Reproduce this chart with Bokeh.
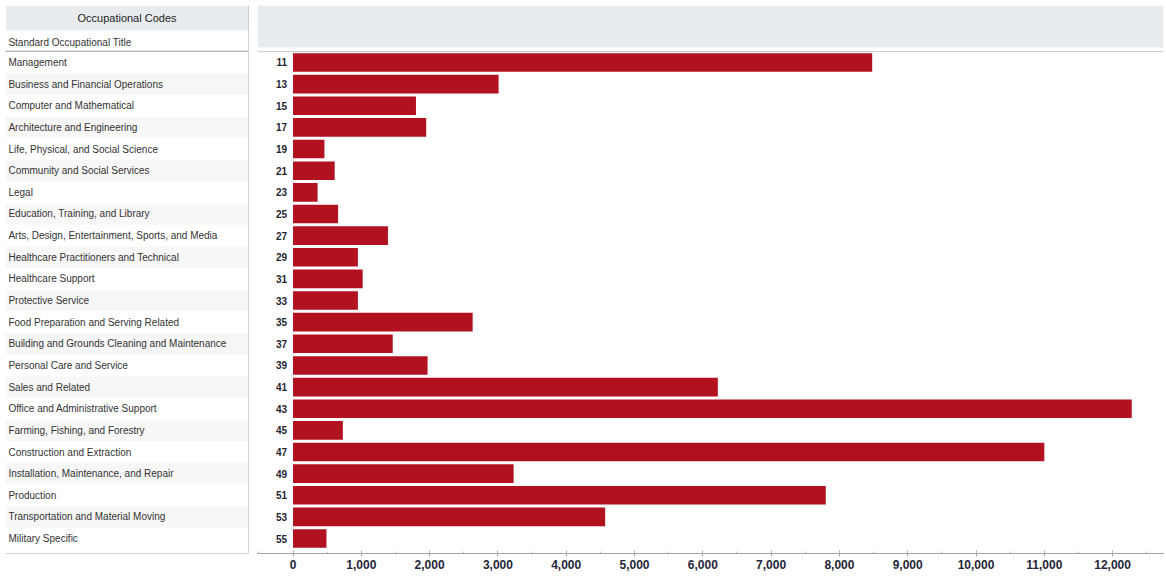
from bokeh.plotting import figure
from bokeh.layouts import row
from bokeh.models import (Range1d, ColumnDataSource, SingleIntervalTicker,
                          NumeralTickFormatter, BoxAnnotation, Span)
from bokeh.core.properties import value
from bokeh.embed import file_html
from bokeh.resources import INLINE

# SOC major groups and their counts
codes = ["11", "13", "15", "17", "19", "21", "23", "25", "27", "29", "31", "33",
         "35", "37", "39", "41", "43", "45", "47", "49", "51", "53", "55"]
titles = [
    "Management",
    "Business and Financial Operations",
    "Computer and Mathematical",
    "Architecture and Engineering",
    "Life, Physical, and Social Science",
    "Community and Social Services",
    "Legal",
    "Education, Training, and Library",
    "Arts, Design, Entertainment, Sports, and Media",
    "Healthcare Practitioners and Technical",
    "Healthcare Support",
    "Protective Service",
    "Food Preparation and Serving Related",
    "Building and Grounds Cleaning and Maintenance",
    "Personal Care and Service",
    "Sales and Related",
    "Office and Administrative Support",
    "Farming, Fishing, and Forestry",
    "Construction and Extraction",
    "Installation, Maintenance, and Repair",
    "Production",
    "Transportation and Material Moving",
    "Military Specific",
]
counts = [8480, 3010, 1800, 1950, 460, 610, 360, 660, 1390, 950, 1020, 950,
          2630, 1460, 1970, 6220, 12280, 730, 11000, 3230, 7800, 4570, 490]

FONT = "Liberation Sans"
BAR = "#B2111F"
HEADER = "#E9ECEF"

rows = list(range(len(codes)))
shade = ["#FFFFFF" if i % 2 == 0 else "#F7F7F7" for i in rows]
src = ColumnDataSource(dict(y=rows, code=codes, title=titles, count=counts,
                            shade=shade))

# shared row scale, first row at the top
y_range = Range1d(start=22.69, end=-2.634)

# ---- left: table of occupational titles ----
left = figure(width=252, height=578, x_range=Range1d(0, 1), y_range=y_range,
              x_axis_location=None, y_axis_location=None,
              toolbar_location=None, output_backend="svg",
              min_border_left=5, min_border_right=4,
              min_border_top=5, min_border_bottom=25)
left.outline_line_color = None
left.xgrid.visible = False
left.ygrid.visible = False

left.hbar(y="y", left=0, right=1, height=1.0, fill_color="shade",
          line_color=None, source=src)
left.quad(left=[0], right=[1.01], top=[-2.634], bottom=[-1.48],
          fill_color=HEADER, line_color=None)
left.text(x=[0.5], y=[-2.06], text=["Occupational Codes"],
          text_font=value(FONT), text_font_size="11px", text_color="#222222",
          text_align="center", text_baseline="middle")
left.text(x=[0.012], y=[-0.93], text=["Standard Occupational Title"],
          text_font=value(FONT), text_font_size="10px", text_color="#333333",
          text_align="left", text_baseline="middle")
left.text(x=0.012, y="y", text="title", source=src,
          text_font=value(FONT), text_font_size="10px", text_color="#333333",
          text_align="left", text_baseline="middle")
left.add_layout(Span(location=-0.52, dimension="width",
                     line_color="#9a9a9a", line_width=1))
left.add_layout(Span(location=1, dimension="height",
                     line_color="#a8a8a8", line_width=1))
left.add_layout(Span(location=22.69, dimension="width",
                     line_color="#a8a8a8", line_width=1))

# ---- right: horizontal bars ----
p = figure(width=914, height=578, x_range=Range1d(-520, 12745), y_range=y_range,
           y_axis_location=None, toolbar_location=None, output_backend="svg",
           min_border_left=5, min_border_right=3,
           min_border_top=5, min_border_bottom=25)
p.outline_line_color = None
p.xgrid.visible = False
p.ygrid.visible = False

p.add_layout(BoxAnnotation(top=-2.634, bottom=-0.69,
                           fill_color=HEADER, fill_alpha=1.0, line_color=None))
p.add_layout(Span(location=-0.5, dimension="width",
                  line_color="#c4c4c4", line_width=1))

p.hbar(y="y", left=0, right="count", height=0.86, fill_color=BAR,
       line_color=None, source=src)
p.text(x=0, y="y", text="code", source=src, x_offset=-6,
       text_font=value(FONT), text_font_size="10px", text_font_style="bold",
       text_color="#1f2430", text_align="right", text_baseline="middle")

xa = p.xaxis[0]
xa.ticker = SingleIntervalTicker(interval=1000, num_minor_ticks=2)
xa.formatter = NumeralTickFormatter(format="0,0")
xa.axis_line_color = "#a0a0a0"
xa.major_tick_line_color = "#a0a0a0"
xa.minor_tick_line_color = "#b8b8b8"
xa.major_tick_in = 3
xa.major_tick_out = 3
xa.minor_tick_in = 2
xa.minor_tick_out = 0
xa.major_label_standoff = 3
xa.major_label_text_font = FONT
xa.major_label_text_font_size = "12px"
xa.major_label_text_font_style = "bold"
xa.major_label_text_color = "#1e2638"

layout = row(left, p, spacing=0)

open("out.html", "w").write(file_html(layout, INLINE))
